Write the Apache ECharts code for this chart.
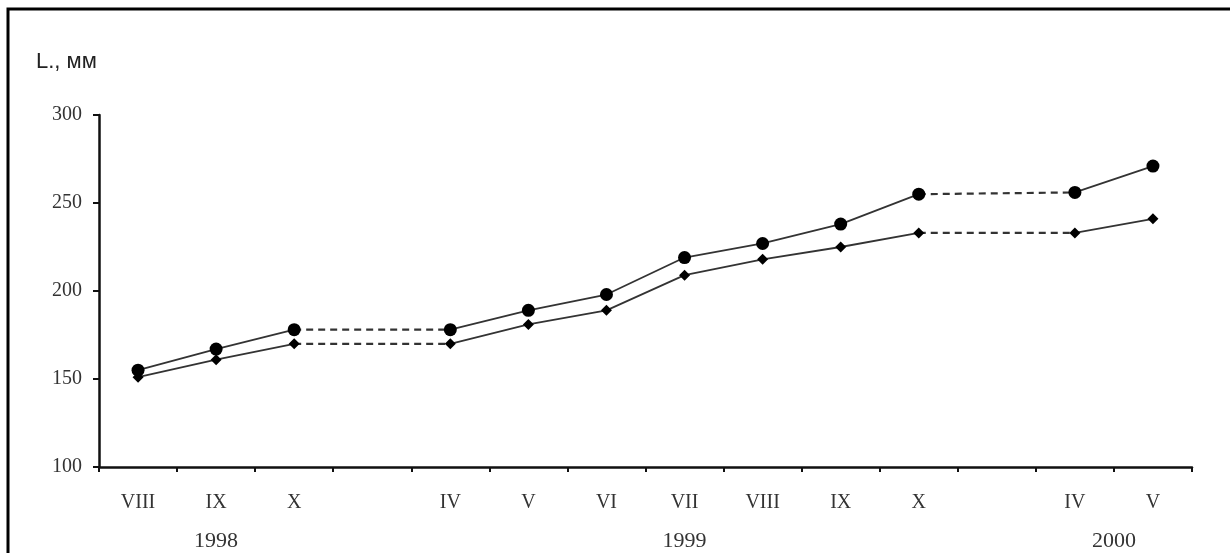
<!DOCTYPE html>
<html>
<head>
<meta charset="utf-8">
<script src="https://cdn.jsdelivr.net/npm/echarts@6/dist/echarts.min.js"></script>
<style>
  html, body { margin: 0; padding: 0; background: #fff; }
  #chart { width: 1230px; height: 553px; }
</style>
</head>
<body>
<div id="chart"></div>
<script>
// months, empty slot = gap in observations
const months = ['VIII', 'IX', 'X', '', 'IV', 'V', 'VI', 'VII', 'VIII', 'IX', 'X', '', 'IV', 'V'];
const gapIdx = [3, 11];
const years = ['1998', '1999', '2000'];
const yearAt = [1, 7, 12.5];
const yTicks = [100, 150, 200, 250, 300];

// L, mm
const upper = [155, 167, 178, null, 178, 189, 198, 219, 227, 238, 255, null, 256, 271];
const lower = [151, 161, 170, null, 170, 181, 189, 209, 218, 225, 233, null, 233, 241];

const chart = echarts.init(document.getElementById('chart'));

const serif = '"Liberation Serif", "DejaVu Serif", serif';

function solid(name, data, symbol, size) {
  return {
    name: name,
    type: 'line',
    data: data,
    symbol: symbol,
    symbolSize: size,
    connectNulls: false,
    animation: false,
    lineStyle: { color: '#333', width: 1.8 },
    itemStyle: { color: '#000' },
    z: 3
  };
}

function dashed(data, g) {
  return {
    type: 'line',
    data: data.map((v, i) => (i === g - 1 || i === g + 1) ? v : null),
    connectNulls: true,
    showSymbol: false,
    symbol: 'none',
    animation: false,
    lineStyle: { color: '#333', width: 2.2, type: [7, 5] },
    z: 2
  };
}

const series = [
  solid('upper', upper, 'circle', 13),
  solid('lower', lower, 'diamond', 11)
];
gapIdx.forEach(g => {
  series.push(dashed(upper, g));
  series.push(dashed(lower, g));
});

chart.setOption({
  backgroundColor: '#fff',
  grid: { left: 99, right: 38, top: 115, bottom: 86 },
  xAxis: {
    type: 'category',
    data: months,
    boundaryGap: true,
    axisLine: { lineStyle: { color: '#111', width: 2.5 } },
    axisTick: { show: true, length: 5, inside: false, lineStyle: { color: '#111', width: 2 } },
    axisLabel: { margin: 26, fontFamily: serif, fontSize: 20, color: '#333' },
    splitLine: { show: false }
  },
  yAxis: {
    type: 'value',
    min: yTicks[0],
    max: yTicks[yTicks.length - 1],
    interval: 50,
    axisLine: { show: true, lineStyle: { color: '#111', width: 2.5 } },
    axisTick: { show: true, length: 6, lineStyle: { color: '#111', width: 2 } },
    axisLabel: { margin: 17, fontFamily: serif, fontSize: 20, color: '#333' },
    splitLine: { show: false }
  },
  series: series,
  graphic: [
    {
      type: 'rect',
      shape: { x: 8, y: 9, width: 1300, height: 700 },
      style: { fill: 'none', stroke: '#000', lineWidth: 3 },
      silent: true
    },
    {
      type: 'text',
      left: 36,
      top: 51,
      style: { text: 'L., мм', font: '22px "Liberation Sans", Arial, sans-serif', fill: '#222' }
    }
  ]
});

// year captions under the month labels
const yearGraphics = years.map((y, k) => {
  const p = yearAt[k];
  const a = chart.convertToPixel({ xAxisIndex: 0 }, Math.floor(p));
  const b = chart.convertToPixel({ xAxisIndex: 0 }, Math.ceil(p));
  const x = a + (b - a) * (p - Math.floor(p));
  return {
    id: 'year' + k,
    type: 'text',
    x: x,
    y: 541,
    style: {
      text: y,
      font: '22px ' + serif,
      fill: '#333',
      align: 'center',
      verticalAlign: 'middle'
    }
  };
});
chart.setOption({ graphic: yearGraphics });
</script>
</body>
</html>
